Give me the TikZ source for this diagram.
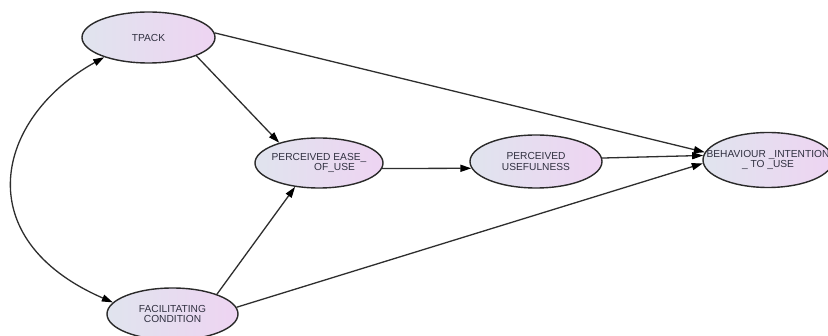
\documentclass[tikz,border=0pt]{standalone}
\usepackage{fontspec}
\setmainfont{Liberation Sans}
\usetikzlibrary{arrows.meta,shapes.geometric}
\definecolor{edgec}{HTML}{2E2E2E}
\definecolor{bordc}{HTML}{2A2A2A}
\definecolor{shl}{RGB}{224,228,238}
\definecolor{shr}{RGB}{238,212,242}
\definecolor{txtc}{HTML}{303040}
\tikzset{
  gvtip/.tip={Triangle[length=11pt,width=7pt,black]},
  latent/.style={ellipse, draw=bordc, line width=1.4pt, left color=shl, right color=shr, inner sep=0pt},
  lbl/.style={align=center, text=txtc, font=\fontsize{10.2}{10.5}\selectfont, inner sep=0pt},
  link/.style={draw=edgec, line width=1.3pt, -gvtip},
}
\begin{document}
\begin{tikzpicture}[x=1pt,y=-1pt]
\clip (0,0) rectangle (828,336);
\fill[white] (0,0) rectangle (828,336);
% latent variables
\node[latent, minimum width=133pt, minimum height=51pt] (tp) at (148.5,37.5) {};
\node[latent, minimum width=128pt, minimum height=50pt] (pe) at (319,163) {};
\node[latent, minimum width=132pt, minimum height=53pt] (pu) at (536,161.5) {};
\node[latent, minimum width=130pt, minimum height=55pt] (bi) at (768,160) {};
\node[latent, minimum width=131pt, minimum height=52pt] (fc) at (172.5,314) {};
% labels
\node[lbl] (tpt) at (tp.center) {TPACK};
\node[lbl] (pet) at (pe.center) {PERCEIVED EASE\_\\\hspace*{31pt}OF\_USE};
\node[lbl] (put) at (pu.center) {PERCEIVED\\USEFULNESS};
\node[lbl] (bit) at (bi.center) {BEHAVIOUR \_INTENTION\\\_ TO \_USE};
\node[lbl] (fct) at (fc.center) {FACILITATING\\CONDITION};
% paths
\draw[link] (tp.-21) -- (pe.153);
\draw[link] (fc.24) -- (pe.225);
\draw[link] (pe.-5) -- (pu.186);
\draw[link] (pu.3) -- (bi.176.5);
\draw[link] (tp.4.7) -- (bi.173);
\draw[link] (fc.6) -- (bi.183);
% covariance
\draw[draw=edgec, line width=1.3pt, gvtip-gvtip] (tp.204) .. controls (-5,118) and (-33,239) .. (fc.169);
\end{tikzpicture}
\end{document}
